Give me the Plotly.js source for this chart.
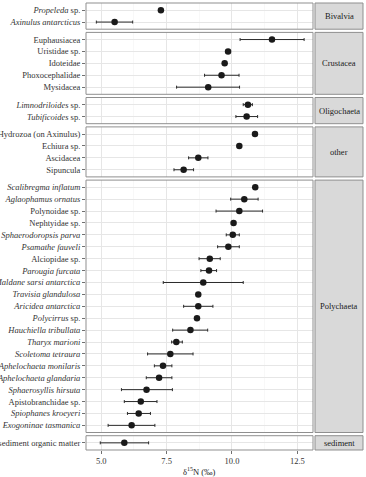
<!DOCTYPE html>
<html>
<head>
<meta charset="utf-8">
<script src="https://cdn.plot.ly/plotly-3.0.1.min.js"></script>
<style>html,body{margin:0;padding:0;background:#fff;}#chart{width:366px;height:477px;}</style>
</head>
<body>
<div id="chart"></div>
<script>
// ---- data ----
const groupNames = ["Bivalvia", "Crustacea", "Oligochaeta", "other", "Polychaeta", "sediment"];

const taxa = [
  "Propeleda sp.", "Axinulus antarcticus",
  "Euphausiacea", "Uristidae sp.", "Idoteidae", "Phoxocephalidae", "Mysidacea",
  "Limnodriloides sp.", "Tubificoides sp.",
  "Hydrozoa (on Axinulus)", "Echiura sp.", "Ascidacea", "Sipuncula",
  "Scalibregma inflatum", "Aglaophamus ornatus", "Polynoidae sp.", "Nephtyidae sp.",
  "Sphaerodoropsis parva", "Psamathe fauveli", "Alciopidae sp.", "Parougia furcata",
  "Maldane sarsi antarctica", "Travisia glandulosa", "Aricidea antarctica", "Polycirrus sp.",
  "Hauchiella tribullata", "Tharyx marioni", "Scoletoma tetraura", "Aphelochaeta monilaris",
  "Aphelochaeta glandaria", "Sphaerosyllis hirsuta", "Apistobranchidae sp.", "Spiophanes kroeyeri",
  "Exogoninae tasmanica",
  "sediment organic matter"
];

const taxonLabels = [
  "<i>Propeleda</i> sp.", "<i>Axinulus antarcticus</i>",
  "Euphausiacea", "Uristidae sp.", "Idoteidae", "Phoxocephalidae", "Mysidacea",
  "<i>Limnodriloides</i> sp.", "<i>Tubificoides</i> sp.",
  "Hydrozoa (on Axinulus)", "Echiura sp.", "Ascidacea", "Sipuncula",
  "<i>Scalibregma inflatum</i>", "<i>Aglaophamus ornatus</i>", "Polynoidae sp.", "Nephtyidae sp.",
  "<i>Sphaerodoropsis parva</i>", "<i>Psamathe fauveli</i>", "Alciopidae sp.", "<i>Parougia furcata</i>",
  "<i>Maldane sarsi antarctica</i>", "<i>Travisia glandulosa</i>", "<i>Aricidea antarctica</i>", "<i>Polycirrus</i> sp.",
  "<i>Hauchiella tribullata</i>", "<i>Tharyx marioni</i>", "<i>Scoletoma tetraura</i>", "<i>Aphelochaeta monilaris</i>",
  "<i>Aphelochaeta glandaria</i>", "<i>Sphaerosyllis hirsuta</i>", "Apistobranchidae sp.", "<i>Spiophanes kroeyeri</i>",
  "<i>Exogoninae tasmanica</i>",
  "sediment organic matter"
];

const taxonGroup = [
  "Bivalvia", "Bivalvia",
  "Crustacea", "Crustacea", "Crustacea", "Crustacea", "Crustacea",
  "Oligochaeta", "Oligochaeta",
  "other", "other", "other", "other",
  "Polychaeta", "Polychaeta", "Polychaeta", "Polychaeta", "Polychaeta", "Polychaeta", "Polychaeta",
  "Polychaeta", "Polychaeta", "Polychaeta", "Polychaeta", "Polychaeta", "Polychaeta", "Polychaeta",
  "Polychaeta", "Polychaeta", "Polychaeta", "Polychaeta", "Polychaeta", "Polychaeta", "Polychaeta",
  "sediment"
];

const meanN = [
  7.28, 5.51,
  11.53, 9.85, 9.72, 9.60, 9.09,
  10.61, 10.56,
  10.88, 10.28, 8.71, 8.15,
  10.89, 10.47, 10.28, 10.06, 10.03, 9.86, 9.15, 9.12, 8.90, 8.71, 8.71, 8.66,
  8.41, 7.87, 7.64, 7.36, 7.21, 6.73, 6.51, 6.43, 6.16,
  5.88
];

const lowN = [
  7.28, 4.81,
  10.31, 9.85, 9.72, 8.95, 7.88,
  10.43, 10.15,
  10.88, 10.28, 8.34, 7.78,
  10.89, 9.95, 9.39, 10.06, 9.78, 9.45, 8.74, 8.81, 7.37, 8.71, 8.15, 8.66,
  7.73, 7.69, 6.77, 7.03, 6.72, 5.77, 5.88, 6.00, 5.26,
  4.96
];

const highN = [
  7.28, 6.20,
  12.76, 9.85, 9.72, 10.27, 10.29,
  10.78, 10.98,
  10.88, 10.28, 9.08, 8.53,
  10.89, 11.00, 11.17, 10.06, 10.28, 10.28, 9.55, 9.41, 10.43, 8.71, 9.27, 8.66,
  9.07, 8.10, 8.51, 7.70, 7.70, 7.72, 7.13, 6.88, 7.05,
  6.81
];

const xTickVals = [5, 7.5, 10, 12.5];
const xTickText = ["5.0", "7.5", "10.0", "12.5"];
const xTitle = "\u03b4<sup>15</sup>N (\u2030)";

// ---- layout geometry ----
const W = 366, H = 477;
const M = {l: 86, r: 53, t: 3, b: 27};
const plotW = W - M.l - M.r, plotH = H - M.t - M.b;
const gapPx = 3.2;
const pad = 0.6;

const counts = groupNames.map(g => taxonGroup.filter(v => v === g).length);
const totalUnits = counts.reduce((s, n) => s + n - 1 + 2 * pad, 0);
const unitPx = (plotH - gapPx * (groupNames.length - 1)) / totalUnits;

const FONT = "'Liberation Serif', 'Times New Roman', serif";
const TXT = "#333333";
const BORDER = "#8f8f8f";

const traces = [];
const layout = {
  width: W, height: H,
  margin: M,
  paper_bgcolor: "#ffffff",
  plot_bgcolor: "#ffffff",
  showlegend: false,
  hovermode: false,
  font: {family: FONT, size: 8.5, color: TXT},
  shapes: [],
  annotations: [],
  xaxis: {
    range: [4.414, 13.10],
    anchor: "y" + groupNames.length,
    tickmode: "array",
    tickvals: xTickVals,
    ticktext: xTickText,
    ticks: "outside", ticklen: 3, tickwidth: 0.7, tickcolor: TXT,
    tickfont: {family: FONT, size: 8.5, color: TXT},
    showgrid: true, gridcolor: "#e6e6e6", gridwidth: 1,
    minor: {dtick: 1.25, tick0: 5, showgrid: true, gridcolor: "#f3f3f3", gridwidth: 0.6, ticks: ""},
    zeroline: false, showline: false, fixedrange: true, automargin: false
  }
};

let topPx = 0;
groupNames.forEach((g, gi) => {
  const idx = taxonGroup.map((v, i) => v === g ? i : -1).filter(i => i >= 0);
  const n = idx.length;
  const hPx = (n - 1 + 2 * pad) * unitPx;
  const d1 = 1 - topPx / plotH;
  const d0 = 1 - (topPx + hPx) / plotH;
  topPx += hPx + gapPx;

  const yName = gi === 0 ? "y" : "y" + (gi + 1);
  const axKey = gi === 0 ? "yaxis" : "yaxis" + (gi + 1);
  const cats = idx.map(i => taxa[i]);

  layout[axKey] = {
    domain: [d0, d1],
    anchor: "x",
    type: "category",
    categoryorder: "array",
    categoryarray: cats,
    range: [n - 1 + pad, -pad],
    tickmode: "array",
    tickvals: cats,
    ticktext: idx.map(i => taxonLabels[i]),
    ticks: "outside", ticklen: 3, tickwidth: 0.7, tickcolor: TXT,
    tickfont: {family: FONT, size: 8.5, color: TXT},
    showgrid: true, gridcolor: "#e6e6e6", gridwidth: 1,
    zeroline: false, showline: false, fixedrange: true, automargin: false
  };

  traces.push({
    type: "scatter",
    mode: "markers",
    x: idx.map(i => meanN[i]),
    y: cats,
    xaxis: "x",
    yaxis: yName,
    marker: {color: "#1a1a1a", size: 6.5},
    error_x: {
      type: "data",
      symmetric: false,
      array: idx.map(i => highN[i] - meanN[i]),
      arrayminus: idx.map(i => meanN[i] - lowN[i]),
      color: "#2b2b2b",
      thickness: 1,
      width: 1.5
    },
    cliponaxis: false
  });

  // panel border
  layout.shapes.push({
    type: "rect", xref: "paper", yref: yName + " domain",
    x0: 0, x1: 1, y0: 0, y1: 1,
    line: {color: BORDER, width: 1}, fillcolor: "rgba(0,0,0,0)", layer: "above"
  });
  // strip
  const sx0 = (315 - M.l) / plotW, sx1 = (363 - M.l) / plotW;
  layout.shapes.push({
    type: "rect", xref: "paper", yref: yName + " domain",
    x0: sx0, x1: sx1, y0: 0, y1: 1,
    line: {color: BORDER, width: 1}, fillcolor: "#d9d9d9", layer: "above"
  });
  layout.annotations.push({
    xref: "paper", yref: yName + " domain",
    x: (sx0 + sx1) / 2, y: 0.5,
    text: g, showarrow: false,
    xanchor: "center", yanchor: "middle",
    font: {family: FONT, size: 8.5, color: "#1a1a1a"}
  });
});

// x axis title
layout.annotations.push({
  xref: "paper", yref: "paper",
  x: 0.5, y: -(471 - (H - M.b)) / plotH,
  text: xTitle, showarrow: false,
  xanchor: "center", yanchor: "middle",
  font: {family: FONT, size: 8.5, color: "#1a1a1a"}
});

Plotly.newPlot("chart", traces, layout, {staticPlot: true, displayModeBar: false});
</script>
</body>
</html>
